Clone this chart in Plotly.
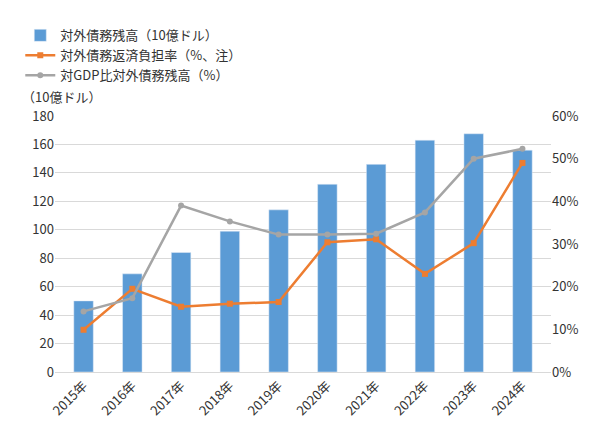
import plotly.graph_objects as go

years = ["2015年", "2016年", "2017年", "2018年", "2019年", "2020年", "2021年", "2022年", "2023年", "2024年"]
debt = [50, 69, 84, 99, 114, 132, 146, 163, 167.5, 156]
burden = [9.9, 19.5, 15.3, 16.0, 16.4, 30.4, 31.1, 23.0, 30.2, 49.0]
debt_gdp = [14.2, 17.3, 39.0, 35.3, 32.2, 32.2, 32.4, 37.4, 50.0, 52.3]

font = "Noto Sans CJK JP"

fig = go.Figure()
fig.add_trace(go.Bar(x=years, y=debt, name="対外債務残高（10億ドル）",
                     marker_color="#5b9bd5", width=0.4))
fig.add_trace(go.Scatter(x=years, y=burden, name="対外債務返済負担率（%、注）", yaxis="y2",
                         mode="lines+markers", line=dict(color="#ed7d31", width=2.5),
                         marker=dict(symbol="square", size=6)))
fig.add_trace(go.Scatter(x=years, y=debt_gdp, name="対GDP比対外債務残高（%）", yaxis="y2",
                         mode="lines+markers", line=dict(color="#a5a5a5", width=2.5),
                         marker=dict(symbol="circle", size=6)))

fig.update_layout(
    width=598, height=444,
    font=dict(family=font, size=13, color="#333"),
    plot_bgcolor="white", paper_bgcolor="white",
    margin=dict(l=40, r=55, t=88, b=80),
    legend=dict(orientation="h", x=-0.07, y=1.1, xanchor="left", yanchor="bottom",
                font=dict(size=13), traceorder="normal",
                entrywidth=240, entrywidthmode="pixels"),
    xaxis=dict(tickangle=-45, showline=True, linecolor="#d9d9d9", ticks=""),
    yaxis=dict(range=[0, 180], dtick=20, gridcolor="#d9d9d9", zeroline=False, ticks=""),
    yaxis2=dict(range=[0, 60], dtick=10, overlaying="y", side="right", showgrid=False,
                ticksuffix="%", zeroline=False),
    annotations=[dict(text="（10億ドル）", xref="paper", yref="paper", x=-0.07, y=1.03,
                      xanchor="left", yanchor="bottom", showarrow=False, font=dict(size=13))],
)

fig.write_html("out.html")
